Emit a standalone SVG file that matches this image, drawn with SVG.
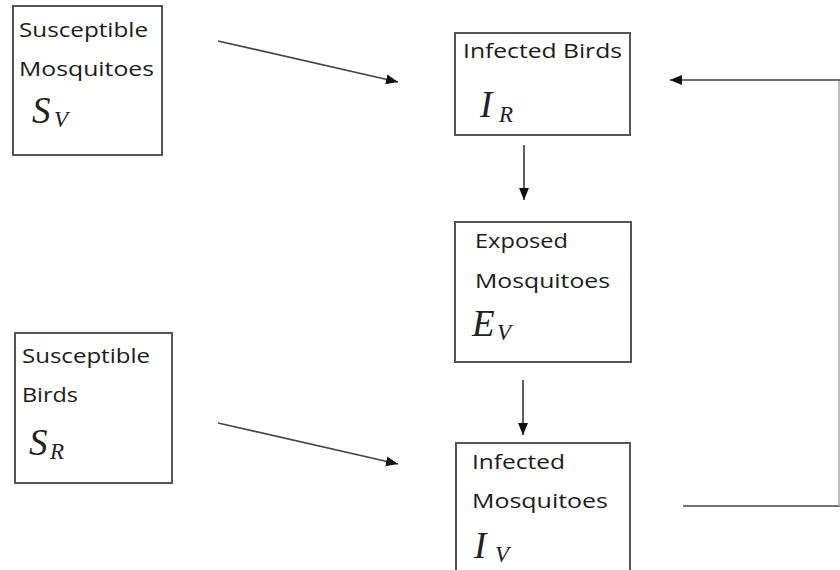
<svg xmlns="http://www.w3.org/2000/svg" width="840" height="570" viewBox="0 0 840 570">
<style>
.box{fill:#fff;stroke:#555;stroke-width:2}
.lbl{font-family:"Open Sans","DejaVu Sans",sans-serif;font-size:20.5px;fill:#1a1a1a}
.m{font-family:"Liberation Serif","DejaVu Serif",serif;font-style:italic;fill:#222}
.big{font-size:37px}
.sub{font-size:23px}
.ln{stroke:#444;stroke-width:1.7;fill:none}
.faint{stroke:#aaa;stroke-width:1.5;fill:none}
</style>
<defs>
<marker id="ah" markerUnits="userSpaceOnUse" markerWidth="13" markerHeight="11" refX="12" refY="5" orient="auto">
<path d="M0,0 L12,5 L0,10 z" fill="#111"/>
</marker>
</defs>
<rect width="840" height="570" fill="#fff"/>
<g id="SV">
<rect class="box" x="13" y="6" width="149" height="149"/>
<text class="lbl" x="19" y="37" textLength="129" lengthAdjust="spacingAndGlyphs">Susceptible</text>
<text class="lbl" x="19" y="76" textLength="135" lengthAdjust="spacingAndGlyphs">Mosquitoes</text>
<text class="m big" x="32" y="123">S</text><text class="m sub" x="54" y="127">V</text>
</g>
<g id="IR">
<rect class="box" x="455" y="33" width="175" height="102"/>
<text class="lbl" x="463" y="58" textLength="159" lengthAdjust="spacingAndGlyphs">Infected Birds</text>
<text class="m big" x="480" y="117">I</text><text class="m sub" x="499" y="122">R</text>
</g>
<g id="EV">
<rect class="box" x="455" y="222" width="176" height="140"/>
<text class="lbl" x="475" y="248" textLength="93" lengthAdjust="spacingAndGlyphs">Exposed</text>
<text class="lbl" x="475" y="288" textLength="135" lengthAdjust="spacingAndGlyphs">Mosquitoes</text>
<text class="m big" x="472" y="336">E</text><text class="m sub" x="497" y="340">V</text>
</g>
<g id="SR">
<rect class="box" x="15" y="333" width="157" height="150"/>
<text class="lbl" x="22" y="363" textLength="128" lengthAdjust="spacingAndGlyphs">Susceptible</text>
<text class="lbl" x="22" y="402" textLength="56" lengthAdjust="spacingAndGlyphs">Birds</text>
<text class="m big" x="29" y="455">S</text><text class="m sub" x="50" y="459">R</text>
</g>
<g id="IV">
<rect class="box" x="456" y="443" width="174" height="130"/>
<text class="lbl" x="472" y="469" textLength="93" lengthAdjust="spacingAndGlyphs">Infected</text>
<text class="lbl" x="472" y="508" textLength="136" lengthAdjust="spacingAndGlyphs">Mosquitoes</text>
<text class="m big" x="474" y="558">I</text><text class="m sub" x="495" y="562">V</text>
</g>
<g id="connectors">
<line class="ln" x1="218" y1="41" x2="398" y2="82" marker-end="url(#ah)"/>
<line class="ln" x1="218" y1="423" x2="398" y2="464" marker-end="url(#ah)"/>
<line class="ln" x1="524" y1="145" x2="524" y2="200" marker-end="url(#ah)"/>
<line class="ln" x1="523" y1="380" x2="523" y2="435" marker-end="url(#ah)"/>
<line class="ln" x1="683" y1="506" x2="840" y2="506"/>
<line class="faint" x1="839" y1="506" x2="839" y2="80"/>
<line class="ln" x1="840" y1="80" x2="670" y2="80" marker-end="url(#ah)"/>
</g>
</svg>
